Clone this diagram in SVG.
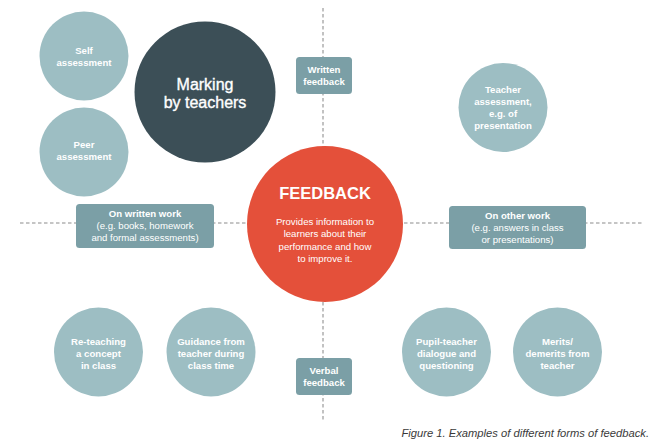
<svg xmlns="http://www.w3.org/2000/svg" width="666" height="444" viewBox="0 0 666 444">
<style>
text{font-family:"Liberation Sans",Arial,sans-serif;fill:#fff;text-anchor:middle}
.lc{fill:#9dbec3}
.bx{fill:#7b9fa6}
.s{font-size:9.6px;font-weight:bold}
.n{font-size:9.6px}
.dash{stroke:#b3b3b3;stroke-width:1.6;stroke-dasharray:3.5 2.5;fill:none}
</style>
<rect width="666" height="444" fill="#fff"/>
<g id="connectors">
<line class="dash" x1="323" y1="8" x2="323" y2="422"/>
<line class="dash" x1="20" y1="223" x2="642" y2="223"/>
</g>
<g id="self"><circle class="lc" cx="84" cy="56" r="44.5"/><text class="s" x="84" y="54">Self</text><text class="s" x="84" y="66">assessment</text></g>
<g id="peer"><circle class="lc" cx="84" cy="152" r="44.5"/><text class="s" x="84" y="148">Peer</text><text class="s" x="84" y="160">assessment</text></g>
<g id="marking"><circle cx="205" cy="92" r="70.5" fill="#3c4f57"/><text x="205" y="90" font-size="16" style="stroke:#fff;stroke-width:0.35">Marking</text><text x="205" y="108" font-size="16" style="stroke:#fff;stroke-width:0.35">by teachers</text></g>
<g id="written"><rect class="bx" x="296" y="57" width="56" height="37" rx="3.5"/><text class="s" x="324" y="72.5">Written</text><text class="s" x="324" y="84.5">feedback</text></g>
<g id="verbal"><rect class="bx" x="296" y="358" width="56" height="37" rx="3.5"/><text class="s" x="324" y="373.5">Verbal</text><text class="s" x="324" y="385.5">feedback</text></g>
<g id="teacher"><circle class="lc" cx="503" cy="107.5" r="44.5"/><text class="s" x="503" y="92.5">Teacher</text><text class="s" x="503" y="104.8">assessment,</text><text class="s" x="503" y="117.1">e.g. of</text><text class="s" x="503" y="129.4">presentation</text></g>
<g id="feedback"><circle cx="325" cy="224" r="78" fill="#e4503a"/><text x="325" y="199" font-size="16.5" font-weight="bold">FEEDBACK</text><text class="n" x="325" y="224.5">Provides information to</text><text class="n" x="325" y="237">learners about their</text><text class="n" x="325" y="249.5">performance and how</text><text class="n" x="325" y="262">to improve it.</text></g>
<g id="onwritten"><rect class="bx" x="76" y="204" width="138" height="44" rx="3.5"/><text class="s" x="145" y="216.5">On written work</text><text class="n" x="145" y="228.5">(e.g. books, homework</text><text class="n" x="145" y="240.5">and formal assessments)</text></g>
<g id="onother"><rect class="bx" x="449" y="206" width="137" height="43" rx="3.5"/><text class="s" x="517.5" y="218.5">On other work</text><text class="n" x="517.5" y="231">(e.g. answers in class</text><text class="n" x="517.5" y="243">or presentations)</text></g>
<g id="reteach"><circle class="lc" cx="98.5" cy="352" r="44.5"/><text class="s" x="98.5" y="344.5">Re-teaching</text><text class="s" x="98.5" y="357">a concept</text><text class="s" x="98.5" y="369">in class</text></g>
<g id="guidance"><circle class="lc" cx="211" cy="352" r="44.5"/><text class="s" x="211" y="344.5">Guidance from</text><text class="s" x="211" y="357">teacher during</text><text class="s" x="211" y="369">class time</text></g>
<g id="pupil"><circle class="lc" cx="446.5" cy="352" r="44.5"/><text class="s" x="446.5" y="344.5">Pupil-teacher</text><text class="s" x="446.5" y="357">dialogue and</text><text class="s" x="446.5" y="369">questioning</text></g>
<g id="merits"><circle class="lc" cx="557.5" cy="352" r="44.5"/><text class="s" x="557.5" y="344.5">Merits/</text><text class="s" x="557.5" y="357">demerits from</text><text class="s" x="557.5" y="369">teacher</text></g>
<text x="649" y="437" font-size="11.2" font-style="italic" style="fill:#3a3a3a;text-anchor:end">Figure 1. Examples of different forms of feedback.</text>
</svg>
